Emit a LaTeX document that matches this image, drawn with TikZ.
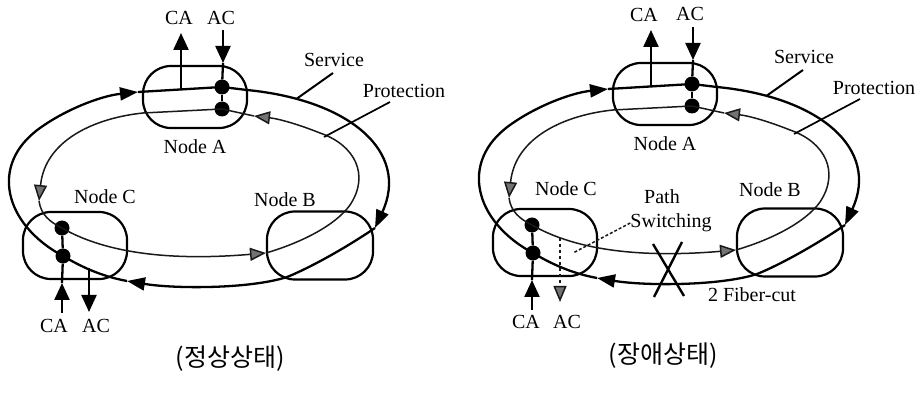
\documentclass[tikz,border=0pt]{standalone}
\usepackage{fontspec}
\setmainfont{Liberation Serif}
\newfontfamily\krfont{Noto Sans CJK KR}
\usetikzlibrary{arrows.meta}

\tikzset{
  svc/.style={line width=2.3pt},
  prot/.style={line width=1.5pt, black!90},
  nodebox/.style={draw, line width=2.2pt, rounded corners=28pt, minimum width=104pt, minimum height=62pt, inner sep=0pt},
  dot/.style={circle, fill=black, inner sep=0pt, minimum size=15pt},
  sarrow/.style={-{Triangle[length=18pt,width=13pt]}},
  ioarrow/.style={-{Triangle[length=17pt,width=15pt]}},
  parrow/.style={-{Triangle[length=16pt,width=13pt,fill=black!55]}},
  lbl/.style={font=\fontsize{20}{22}\selectfont, inner sep=0pt},
  caption/.style={font=\krfont\fontsize{25}{28}\selectfont, inner sep=0pt},
}

\newcommand\ringdiagram[1]{%
  % node boxes
  \node[nodebox] (#1A) at (195,97) {};
  \node[nodebox, minimum height=67pt] (#1C) at (75,245.5) {};
  \node[nodebox, minimum width=106pt, minimum height=68pt] (#1B) at (320,245.5) {};
  % dots
  \node[dot] (#1a1) at (222,87) {};
  \node[dot] (#1a2) at (222,109) {};
  \node[dot] (#1c1) at (62,228) {};
  \node[dot] (#1c2) at (63,256) {};
  % arrow positions on rings
  \coordinate (#1sA) at (138,92);
  \coordinate (#1sB) at (375,228);
  \coordinate (#1sC) at (127,281);
  \coordinate (#1pA) at (254,116);
  \coordinate (#1pB) at (266,253);
  \coordinate (#1pC) at (39,201);
  % service ring (clockwise)
  \draw[svc, sarrow] (#1a1.center) -- (247,90) .. controls (350,100) and (410,152) .. (#1sB);
  \draw[svc, sarrow] (#1sB) .. controls (335,255) and (300,272) .. (287,277)
        .. controls (250,289) and (175,289) .. (#1sC);
  \draw[svc] (#1sC) .. controls (100,276) and (80,266) .. (#1c2.center);
  \draw[svc, sarrow] (#1c2.center) .. controls (5,225) and (-12,165) .. (40,128)
        .. controls (65,110) and (100,96) .. (#1sA);
  \draw[svc] (#1sA) -- (#1a1.center);
  % protection ring (counter-clockwise)
  \draw[prot, parrow] (#1a2.center) -- (143,113) .. controls (95,118) and (45,140) .. (#1pC);
  \draw[prot] (#1pC) .. controls (41,215) and (50,222) .. (#1c1.center);
  \draw[prot, parrow] (#1c1.center) .. controls (100,250) and (160,262) .. (#1pB);
  \draw[prot, parrow] (#1pB) .. controls (300,243) and (335,226) .. (350,205)
        .. controls (370,175) and (355,145) .. (320,133)
        .. controls (300,125) and (280,119) .. (#1pA);
  \draw[prot] (#1pA) -- (#1a2.center);
  % drops at node A
  \draw[svc] (#1a1) -- (#1a2);
  \coordinate (#1caT) at (181,33);
  \coordinate (#1caB) at (181,89.5);
  \draw[svc, ioarrow] (#1caB) -- (#1caT);
  \coordinate (#1acT) at (223,30);
  \coordinate (#1acM) at (223,63);
  \draw[svc, ioarrow] (#1acT) -- (#1acM);
  \draw[svc] (#1acM) -- (#1a1);
  % adds at node C
  \draw[svc] (#1c1) -- (#1c2);
  \coordinate (#1cbot) at (62,313);
  \coordinate (#1ctip) at (62,283);
  \draw[svc, ioarrow] (#1cbot) -- (#1ctip);
  \draw[svc] (#1ctip) -- (#1c2);
  % ring labels
  \node[lbl] (#1svc) at (334,60) {Service};
  \node[lbl] (#1prt) at (404,91) {Protection};
  \coordinate (#1svcA) at (333,73);
  \coordinate (#1svcB) at (297,98.5);
  \draw[line width=2pt] (#1svcA) -- (#1svcB);
  \coordinate (#1prtA) at (390,102);
  \coordinate (#1prtB) at (324,137);
  \draw[line width=1.7pt] (#1prtA) -- (#1prtB);
}

\begin{document}
\begin{tikzpicture}[x=1pt,y=-1pt]
\useasboundingbox (0,0) rectangle (921,395);

% ---------- normal state ----------
\ringdiagram{L}
\coordinate (Lacs) at (89,268);
\coordinate (Lact) at (89,312);
\draw[svc, ioarrow] (Lacs) -- (Lact);
\node[lbl] (LnA) at (195,147) {Node A};
\node[lbl] (LnC) at (105,197) {Node C};
\node[lbl] (LnB) at (285,200) {Node B};
\node[lbl] (LtCA) at (179,18) {CA};
\node[lbl] (LtAC) at (221,18) {AC};
\node[lbl] (LbCA) at (54,326) {CA};
\node[lbl] (LbAC) at (96,326) {AC};
\node[caption] (cap1) at (230,359) {(정상상태)};

% ---------- failure state ----------
\begin{scope}[shift={(470,-3)}]
\ringdiagram{R}
\end{scope}
\coordinate (Racs) at (560,238);
\coordinate (Ract) at (560,302);
\draw[prot, dashed, parrow] (Racs) -- (Ract);
\node[lbl] (RnA) at (665,144) {Node A};
\node[lbl] (RnC) at (566,189) {Node C};
\node[lbl] (RnB) at (770,190) {Node B};
\node[lbl] (RtCA) at (644,15) {CA};
\node[lbl] (RtAC) at (690,14) {AC};
\node[lbl] (RbCA) at (526,322) {CA};
\node[lbl] (RbAC) at (567,322) {AC};
\node[lbl] (Rpath) at (662,197) {Path};
\node[lbl] (Rsw) at (671,223) {Switching};
\coordinate (Rswl) at (573,253);
\draw[prot, densely dashed] (Rsw.west) -- (Rswl);
\coordinate (Rx1) at (653,244);
\coordinate (Rx2) at (684,296);
\coordinate (Rx3) at (682,242);
\coordinate (Rx4) at (654,297);
\draw[line width=2.4pt] (Rx1) -- (Rx2);
\draw[line width=2.4pt] (Rx3) -- (Rx4);
\node[lbl] (Rcut) at (752,295) {2 Fiber-cut};
\node[caption] (cap2) at (663,356) {(장애상태)};
\end{tikzpicture}
\end{document}
